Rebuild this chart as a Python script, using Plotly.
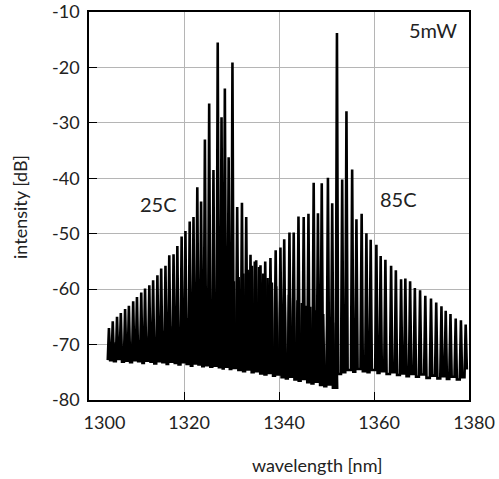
import plotly.graph_objects as go

# ---- data (peak wavelength [nm], peak level [dB], following valley level [dB]) ----
w25 = [1304.2, 1305.0, 1305.9, 1306.7, 1307.6, 1308.4, 1309.3, 1310.1, 1311.0, 1311.8,
       1312.7, 1313.5, 1314.4, 1315.2, 1316.1, 1316.9, 1317.8, 1318.6, 1319.5, 1320.3,
       1321.2, 1322.0, 1322.8, 1323.6, 1324.4, 1325.3, 1326.2, 1327.1, 1327.9, 1328.6,
       1329.4, 1330.2, 1331.2, 1332.2, 1333.1, 1334.0, 1334.9, 1335.8, 1336.7, 1337.6,
       1338.5, 1339.4, 1340.3, 1341.2, 1342.1, 1343.0, 1343.9, 1344.8, 1345.7, 1346.6,
       1347.5, 1348.4, 1349.3, 1350.2, 1351.1, 1352.0]
p25 = [-67.0, -65.8, -65.0, -64.3, -63.6, -63.0, -62.2, -61.4, -60.6, -59.9,
       -59.3, -58.4, -57.5, -56.3, -55.8, -53.9, -53.7, -52.2, -50.5, -49.5,
       -47.8, -47.0, -41.6, -44.2, -33.0, -26.5, -38.5, -15.5, -29.0, -23.8,
       -36.2, -19.1, -45.2, -44.4, -47.0, -53.8, -55.0, -56.0, -57.2, -58.0,
       -58.8, -59.5, -60.0, -60.8, -61.0, -61.6, -62.0, -62.5, -63.0, -63.2,
       -63.8, -64.0, -64.5, -65.0, -65.5, -66.0]
v25 = [-72.8, -73.0, -72.6, -73.1, -72.9, -73.2, -72.8, -73.0, -73.3, -72.9,
       -73.1, -73.4, -73.0, -73.2, -73.5, -73.1, -73.3, -73.6, -73.2, -73.5,
       -73.8, -73.4, -73.6, -73.9, -73.7, -74.0, -73.8, -74.1, -74.3, -74.0,
       -74.4, -74.2, -74.6, -74.8, -74.5, -75.0, -74.8, -75.2, -75.4, -75.1,
       -75.6, -75.4, -75.9, -76.1, -75.8, -76.3, -76.5, -76.2, -76.8, -77.0,
       -76.7, -77.3, -77.5, -77.2, -77.8, -78.0]

w85 = [1304.6, 1305.6, 1306.6, 1307.6, 1308.6, 1309.6, 1310.6, 1311.6, 1312.6, 1313.6,
       1314.6, 1315.6, 1316.6, 1317.6, 1318.6, 1319.6, 1320.6, 1321.6, 1322.6, 1323.6,
       1324.6, 1325.6, 1326.6, 1327.6, 1328.5, 1329.5, 1330.5, 1331.5, 1332.5, 1333.4,
       1334.3, 1335.2, 1336.1, 1337.1, 1338.2, 1339.3, 1340.3, 1341.1, 1342.2, 1343.1,
       1344.1, 1345.2, 1346.2, 1347.3, 1348.2, 1349.0, 1350.3, 1351.2, 1352.2, 1353.3,
       1354.2, 1355.4, 1356.3, 1357.4, 1358.4, 1359.3, 1360.5, 1361.4, 1362.4, 1363.6,
       1364.6, 1365.7, 1366.6, 1367.6, 1368.6, 1369.7, 1370.8, 1372.0, 1373.1, 1374.2,
       1375.1, 1376.1, 1377.2, 1378.3, 1379.3]
p85 = [-70.0, -69.6, -69.8, -69.3, -69.5, -69.0, -69.2, -68.7, -68.5, -68.2,
       -67.9, -67.5, -67.2, -66.7, -66.3, -65.8, -65.2, -64.6, -64.0, -63.4,
       -62.8, -62.0, -61.3, -60.6, -60.0, -59.3, -58.6, -57.8, -57.2, -56.5,
       -55.8, -54.8, -55.7, -55.0, -54.4, -53.0, -52.5, -51.0, -49.8, -49.8,
       -46.9, -47.0, -46.4, -40.8, -46.3, -40.9, -39.9, -44.5, -13.8, -40.2,
       -27.9, -38.4, -47.4, -46.4, -49.9, -51.1, -52.0, -54.0, -54.7, -55.8,
       -56.6, -58.2, -58.1, -58.6, -59.8, -60.2, -61.2, -61.7, -62.4, -63.1,
       -63.9, -64.5, -65.3, -65.6, -66.4]
v85 = [-71.2, -71.6, -71.0, -71.5, -71.3, -71.7, -71.2, -71.6, -71.4, -71.8,
       -71.3, -71.7, -71.5, -71.9, -71.6, -72.0, -71.8, -72.2, -71.9, -72.3,
       -72.1, -72.5, -72.2, -72.6, -72.4, -72.8, -72.6, -73.0, -72.8, -73.2,
       -73.0, -73.4, -73.2, -73.6, -73.5, -73.9, -73.7, -74.1, -74.0, -74.4,
       -74.2, -74.6, -74.5, -74.9, -74.7, -75.2, -75.0, -75.4, -75.3, -75.0,
       -74.6, -74.9, -74.4, -74.8, -75.0, -74.6, -75.1, -74.8, -75.3, -75.0,
       -75.5, -75.2, -75.7, -75.3, -75.8, -75.4, -76.0, -75.6, -76.1, -75.7,
       -76.2, -75.8, -76.3, -75.9, -74.5]

x_ticks = [1300, 1320, 1340, 1360, 1380]
x_ticktext = ["\u2007\u20071300", "1320", "1340", "1360", "1380"]
y_ticks = [-80, -70, -60, -50, -40, -30, -20, -10]
y_ticktext = ["-80", "-70", "-60", "-50", "-40", "-30", "-20", "-10"]

labels = [("25C", 1314.6, -44.7), ("85C", 1365.2, -43.8), ("5mW", 1372.4, -13.2)]

HALF = 0.25  # half-width of a mode spike in nm (style)
TEXT = "#222"

def spectrum(w, p, v):
    xs, ys = [], []
    prev = v[0]
    for wi, pi, vi in zip(w, p, v):
        xs += [wi - HALF, wi, wi + HALF]
        ys += [prev, pi, vi]
        prev = vi
    return xs, ys


fig = go.Figure()
for w, p, v in [(w25, p25, v25), (w85, p85, v85)]:
    xs, ys = spectrum(w, p, v)
    fig.add_trace(go.Scatter(x=xs, y=ys, mode="lines",
                             line=dict(color="black", width=2.6), hoverinfo="skip"))

for txt, lx, ly in labels:
    fig.add_annotation(x=lx, y=ly, text=txt, showarrow=False,
                       font=dict(size=20, color=TEXT))

fig.add_annotation(xref="x domain", yref="y domain", x=(317 - 89) / 380, y=-(465 - 400) / 388,
                   xanchor="center", yanchor="middle",
                   text="wavelength [nm]", showarrow=False, font=dict(size=18, color=TEXT))
fig.add_annotation(xref="x domain", yref="y domain", x=-(89 - 20) / 380, y=(400 - 207) / 388,
                   xanchor="center", yanchor="middle",
                   text="intensity [dB]", textangle=-90, showarrow=False,
                   font=dict(size=18, color=TEXT))

fig.update_layout(
    width=499, height=479,
    margin=dict(l=89, r=30, t=12, b=79, autoexpand=False),
    plot_bgcolor="white", paper_bgcolor="white",
    showlegend=False,
    font=dict(family="Lato", size=18, color=TEXT),
)
fig.update_xaxes(range=[1300, 1380], tickvals=x_ticks, ticktext=x_ticktext, showgrid=True,
                 gridcolor="#b5b5b5", gridwidth=1, showline=True, linecolor="black",
                 linewidth=1.5, mirror=True, ticks="inside", ticklen=8, tickcolor="black",
                 zeroline=False, ticklabelstandoff=6, ticklabelshift=5, automargin=False)
fig.update_yaxes(range=[-80, -10], tickvals=y_ticks, ticktext=y_ticktext, showgrid=True,
                 gridcolor="#b5b5b5", gridwidth=1, showline=True, linecolor="black",
                 linewidth=1.5, mirror=True, ticks="inside", ticklen=8, tickcolor="black",
                 zeroline=False, ticklabelstandoff=4, automargin=False)

fig.write_html("out.html", config={"displayModeBar": False},
               post_script="document.body.style.margin='0';document.body.style.overflow='hidden';")
